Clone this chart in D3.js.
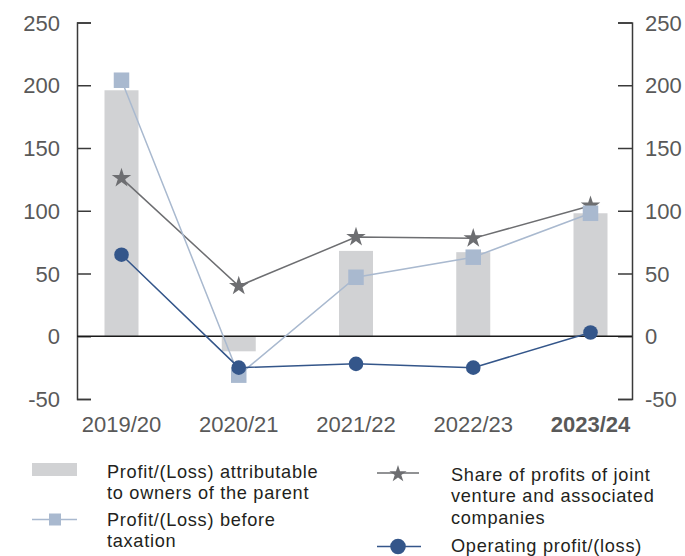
<!DOCTYPE html>
<html>
<head>
<meta charset="utf-8">
<script src="https://cdn.jsdelivr.net/npm/d3@7"></script>
<style>
  html, body { margin: 0; padding: 0; background: #fff; }
  svg { display: block; }
  .axis-label { font-family: "Liberation Sans", Arial, sans-serif; font-size: 22px; fill: #595959; }
  .legend-label { font-family: "Liberation Sans", Arial, sans-serif; font-size: 18.2px; letter-spacing: 0.7px; fill: #231f20; }
</style>
</head>
<body>
<svg id="chart" width="685" height="556"></svg>
<script>
// Financial years
const categories = ["2019/20", "2020/21", "2021/22", "2022/23", "2023/24"];
// Profit/(Loss) attributable to owners of the parent (bars)
const attributable = [196, -12, 68, 67, 98];
// Profit/(Loss) before taxation (squares)
const beforeTax = [204, -31, 47, 63, 98];
// Share of profits of joint venture and associated companies (stars)
const jvShare = [126, 40, 79, 78, 104];
// Operating profit/(loss) (circles)
const operating = [65, -25, -22, -25, 3];
// Value-axis ticks
const yTicks = [-50, 0, 50, 100, 150, 200, 250];

const colors = {
  bar: "#d1d2d4",
  square: "#a9b9cf",
  star: "#6d6e71",
  circle: "#34568a",
  axis: "#3a3a3a"
};

const svg = d3.select("#chart");

const axisLeftX = 77, axisRightX = 632;
const x = d3.scalePoint().domain(categories).range([121.5, 590.5]);
const y = d3.scaleLinear().domain([-50, 250]).range([399, 22.5]);
const barWidth = 34;

// Bars
svg.append("g").selectAll("rect")
  .data(categories.map((c, i) => ({ c, v: attributable[i] })))
  .join("rect")
  .attr("x", d => x(d.c) - barWidth / 2)
  .attr("y", d => y(Math.max(0, d.v)))
  .attr("width", barWidth)
  .attr("height", d => Math.abs(y(d.v) - y(0)))
  .attr("fill", colors.bar);

// Left and right value axes, ticks pointing into the plot
const leftAxis = svg.append("g")
  .attr("transform", `translate(${axisLeftX},0)`)
  .call(d3.axisRight(y).tickValues(yTicks).tickSize(14).tickFormat(""));
const rightAxis = svg.append("g")
  .attr("transform", `translate(${axisRightX},0)`)
  .call(d3.axisLeft(y).tickValues(yTicks).tickSize(14).tickFormat(""));
[leftAxis, rightAxis].forEach(g => {
  g.select(".domain").attr("stroke", colors.axis).attr("stroke-width", 1.5);
  g.selectAll(".tick line").attr("stroke", colors.axis).attr("stroke-width", 1.5);
});

// Tick labels on both sides
svg.append("g").selectAll("text")
  .data(yTicks).join("text")
  .attr("class", "axis-label")
  .attr("x", 60).attr("y", d => y(d)).attr("dy", "0.37em")
  .attr("text-anchor", "end")
  .text(d => d);
svg.append("g").selectAll("text")
  .data(yTicks).join("text")
  .attr("class", "axis-label")
  .attr("x", 645).attr("y", d => y(d)).attr("dy", "0.37em")
  .attr("text-anchor", "start")
  .text(d => d);

// Zero baseline
svg.append("line")
  .attr("x1", axisLeftX).attr("x2", axisRightX)
  .attr("y1", y(0)).attr("y2", y(0))
  .attr("stroke", "#1a1a1a").attr("stroke-width", 1.6);

// Category labels, latest year in bold
svg.append("g").selectAll("text")
  .data(categories).join("text")
  .attr("class", "axis-label")
  .attr("x", d => x(d)).attr("y", 431.5)
  .attr("text-anchor", "middle")
  .attr("font-weight", (d, i) => i === categories.length - 1 ? "bold" : null)
  .text(d => d);

const line = d3.line().x(d => x(d.c)).y(d => y(d.v));
const toPts = arr => categories.map((c, i) => ({ c, v: arr[i] }));

// Stars
const starPts = toPts(jvShare);
svg.append("path").datum(starPts)
  .attr("d", line).attr("fill", "none")
  .attr("stroke", colors.star).attr("stroke-width", 1.5);
svg.append("g").selectAll("path")
  .data(starPts).join("path")
  .attr("transform", d => `translate(${x(d.c)},${y(d.v)})`)
  .attr("d", d3.symbol(d3.symbolStar, 118))
  .attr("fill", colors.star);

// Squares
const sqPts = toPts(beforeTax);
svg.append("path").datum(sqPts)
  .attr("d", line).attr("fill", "none")
  .attr("stroke", colors.square).attr("stroke-width", 1.5);
svg.append("g").selectAll("rect")
  .data(sqPts).join("rect")
  .attr("x", d => x(d.c) - 7.75).attr("y", d => y(d.v) - 7.75)
  .attr("width", 15.5).attr("height", 15.5)
  .attr("fill", colors.square);

// Circles
const cPts = toPts(operating);
svg.append("path").datum(cPts)
  .attr("d", line).attr("fill", "none")
  .attr("stroke", colors.circle).attr("stroke-width", 1.5);
svg.append("g").selectAll("circle")
  .data(cPts).join("circle")
  .attr("cx", d => x(d.c)).attr("cy", d => y(d.v))
  .attr("r", 7.3)
  .attr("fill", colors.circle);

// Legend
const legend = svg.append("g");
// bar swatch
legend.append("rect").attr("x", 32).attr("y", 463).attr("width", 45).attr("height", 13).attr("fill", colors.bar);
// square swatch
legend.append("line").attr("x1", 32).attr("x2", 77).attr("y1", 519.5).attr("y2", 519.5)
  .attr("stroke", colors.square).attr("stroke-width", 1.5);
legend.append("rect").attr("x", 49).attr("y", 513.5).attr("width", 12).attr("height", 12).attr("fill", colors.square);
// star swatch
legend.append("line").attr("x1", 377).attr("x2", 419).attr("y1", 473).attr("y2", 473)
  .attr("stroke", colors.star).attr("stroke-width", 1.5);
legend.append("path").attr("transform", "translate(398,474)")
  .attr("d", d3.symbol(d3.symbolStar, 92)).attr("fill", colors.star);
// circle swatch
legend.append("line").attr("x1", 377).attr("x2", 421).attr("y1", 546.5).attr("y2", 546.5)
  .attr("stroke", colors.circle).attr("stroke-width", 1.5);
legend.append("circle").attr("cx", 398).attr("cy", 546.5).attr("r", 7.8).attr("fill", colors.circle);

const legendText = [
  { x: 107, y: 478, lines: ["Profit/(Loss) attributable", "to owners of the parent"] },
  { x: 107, y: 526, lines: ["Profit/(Loss) before", "taxation"] },
  { x: 451, y: 481, lines: ["Share of profits of joint", "venture and associated", "companies"] },
  { x: 451, y: 551.5, lines: ["Operating profit/(loss)"] }
];
legendText.forEach(item => {
  const t = legend.append("text").attr("class", "legend-label").attr("x", item.x).attr("y", item.y);
  item.lines.forEach((l, i) => {
    t.append("tspan").attr("x", item.x).attr("dy", i === 0 ? 0 : 21.3).text(l);
  });
});
</script>
</body>
</html>
